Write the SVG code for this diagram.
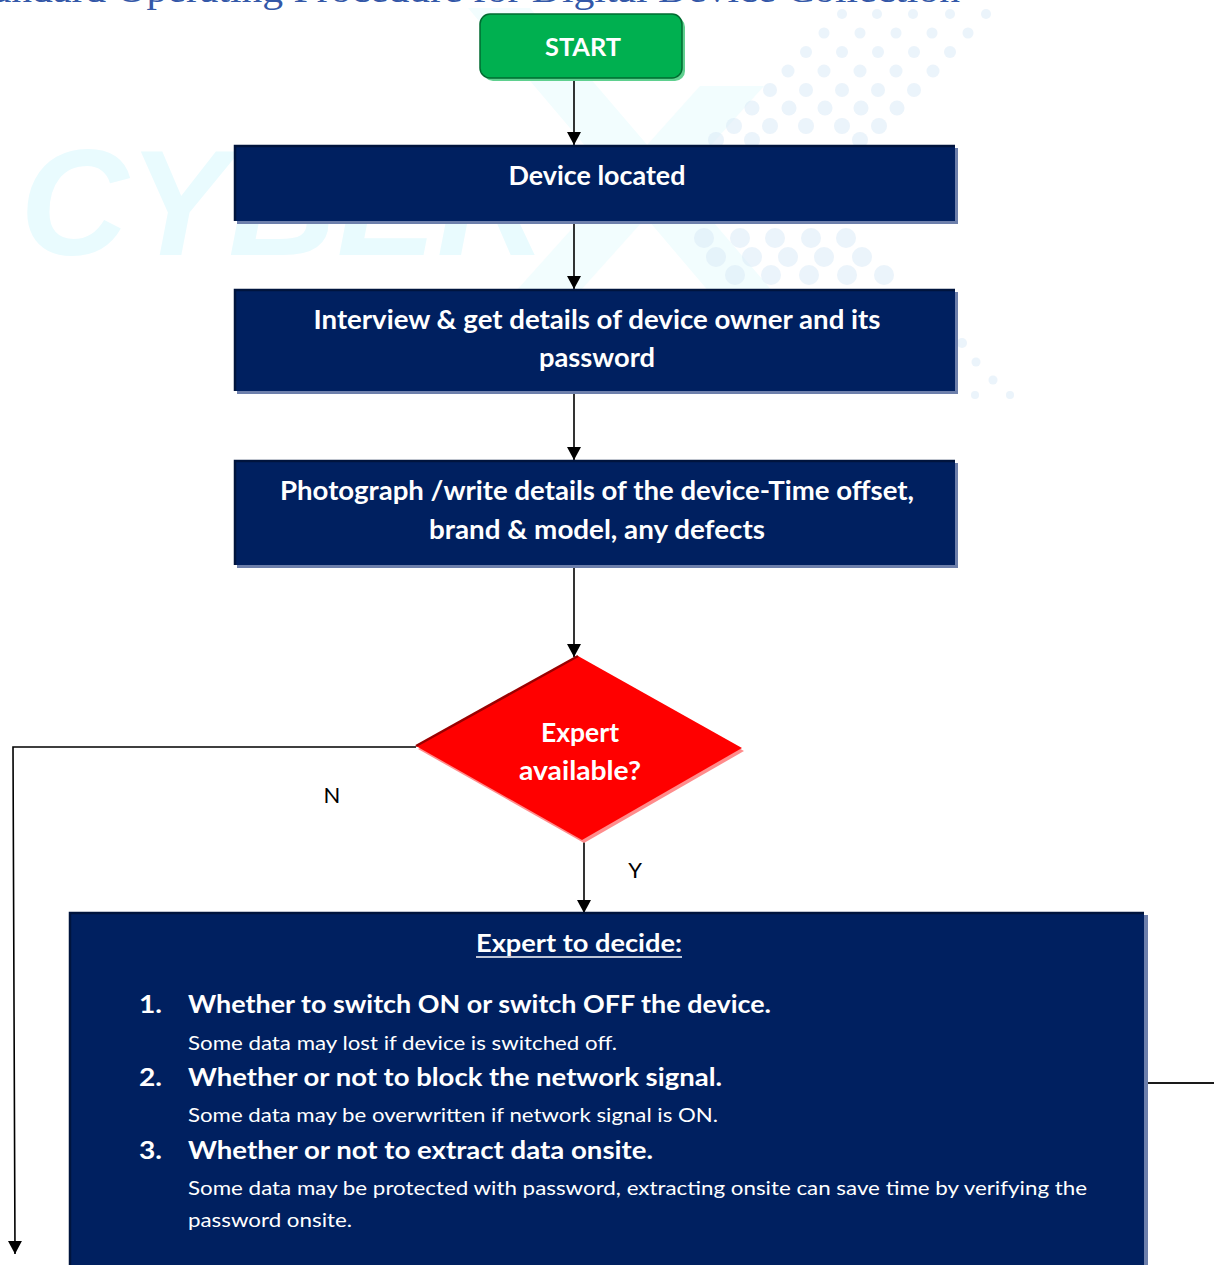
<svg xmlns="http://www.w3.org/2000/svg" width="1214" height="1265" viewBox="0 0 1214 1265">
  <defs>
    <style>
      .lbl { font-family: Lato, "Liberation Sans", sans-serif; font-weight: 700; fill: #ffffff; }
      .sub { font-family: Lato, "Liberation Sans", sans-serif; font-weight: 400; fill: #ffffff; }
      .yn { font-family: Lato, "Liberation Sans", sans-serif; font-weight: 400; fill: #000000; font-size: 22px; }
      .box { fill: #002060; }
      .boxShadow { fill: #6d7fab; }
      .boxEdge { fill: none; stroke: #00143d; stroke-width: 2.5; }
      .link { fill: none; stroke: #000000; stroke-width: 1.6; }
      .dot { fill: #d9eaf8; }
    </style>
    <marker id="arrow" markerUnits="userSpaceOnUse" markerWidth="13" markerHeight="14" viewBox="0 0 13 14" refX="13" refY="7" orient="auto">
      <path d="M0,0 L13,7 L0,14 Z" fill="#000000"/>
    </marker>
  </defs>

  <!-- page background -->
  <rect width="1214" height="1265" fill="#ffffff"/>

  <!-- faint letterhead watermark -->
  <g id="watermark">
    <polygon points="468,8 530,8 780,300 716,300" fill="#f2fdfe"/>
    <polygon points="700,86 764,86 572,300 508,300" fill="#f2fdfe"/>
    <text x="20" y="255" font-family="Liberation Sans, sans-serif" font-weight="700" font-style="italic" font-size="150" fill="#e9fbfe">CYBER</text>
    <g opacity="0.5">
      <circle class="dot" cx="842" cy="14" r="5"/><circle class="dot" cx="877" cy="14" r="5"/><circle class="dot" cx="913" cy="14" r="5"/><circle class="dot" cx="950" cy="14" r="5"/><circle class="dot" cx="986" cy="14" r="5"/>
      <circle class="dot" cx="824" cy="33" r="5.5"/><circle class="dot" cx="860" cy="33" r="5.5"/><circle class="dot" cx="896" cy="33" r="5.5"/><circle class="dot" cx="932" cy="33" r="5.5"/><circle class="dot" cx="968" cy="33" r="5.5"/>
      <circle class="dot" cx="806" cy="52" r="6"/><circle class="dot" cx="842" cy="52" r="6"/><circle class="dot" cx="878" cy="52" r="6"/><circle class="dot" cx="914" cy="52" r="6"/><circle class="dot" cx="950" cy="52" r="6"/>
      <circle class="dot" cx="788" cy="71" r="6.5"/><circle class="dot" cx="824" cy="71" r="6.5"/><circle class="dot" cx="860" cy="71" r="6.5"/><circle class="dot" cx="896" cy="71" r="6.5"/><circle class="dot" cx="933" cy="71" r="6.5"/>
      <circle class="dot" cx="770" cy="90" r="7"/><circle class="dot" cx="806" cy="90" r="7"/><circle class="dot" cx="842" cy="90" r="7"/><circle class="dot" cx="878" cy="90" r="7"/><circle class="dot" cx="914" cy="90" r="7"/>
      <circle class="dot" cx="752" cy="108" r="7.5"/><circle class="dot" cx="789" cy="108" r="7.5"/><circle class="dot" cx="825" cy="108" r="7.5"/><circle class="dot" cx="861" cy="108" r="7.5"/><circle class="dot" cx="897" cy="108" r="7.5"/>
      <circle class="dot" cx="734" cy="126" r="8"/><circle class="dot" cx="770" cy="126" r="8"/><circle class="dot" cx="806" cy="126" r="8"/><circle class="dot" cx="842" cy="126" r="8"/><circle class="dot" cx="879" cy="126" r="8"/>
      <circle class="dot" cx="716" cy="140" r="8"/><circle class="dot" cx="752" cy="140" r="8"/><circle class="dot" cx="860" cy="140" r="8"/>
      <circle class="dot" cx="704" cy="238" r="10"/><circle class="dot" cx="740" cy="238" r="10"/><circle class="dot" cx="775" cy="238" r="10"/><circle class="dot" cx="811" cy="238" r="10"/><circle class="dot" cx="846" cy="238" r="10"/>
      <circle class="dot" cx="716" cy="257" r="10"/><circle class="dot" cx="752" cy="257" r="10"/><circle class="dot" cx="788" cy="257" r="10"/><circle class="dot" cx="824" cy="257" r="10"/><circle class="dot" cx="862" cy="257" r="10"/>
      <circle class="dot" cx="735" cy="275" r="10"/><circle class="dot" cx="771" cy="275" r="10"/><circle class="dot" cx="809" cy="275" r="10"/><circle class="dot" cx="847" cy="275" r="10"/><circle class="dot" cx="884" cy="275" r="10"/>
      <circle class="dot" cx="962" cy="343" r="5"/><circle class="dot" cx="976" cy="362" r="4.5"/><circle class="dot" cx="993" cy="380" r="4.5"/><circle class="dot" cx="1010" cy="395" r="4"/><circle class="dot" cx="975" cy="395" r="4"/>
    </g>
  </g>

  <!-- page heading, running off the top edge -->
  <text x="-42" y="2" font-family="Liberation Serif, serif" font-size="36" fill="#3458a8" textLength="1002" lengthAdjust="spacingAndGlyphs">Standard Operating Procedure for Digital Device Collection</text>

  <!-- connectors -->
  <g id="connectors">
    <line class="link" x1="574" y1="80" x2="574" y2="145" marker-end="url(#arrow)"/>
    <line class="link" x1="574" y1="224" x2="574" y2="289" marker-end="url(#arrow)"/>
    <line class="link" x1="574" y1="394" x2="574" y2="460" marker-end="url(#arrow)"/>
    <line class="link" x1="574" y1="568" x2="574" y2="657" marker-end="url(#arrow)"/>
    <polyline class="link" points="416,747 13,747 15,1254" marker-end="url(#arrow)"/>
    <line class="link" x1="584" y1="842" x2="584" y2="913" marker-end="url(#arrow)"/>
    <line x1="1147" y1="1083" x2="1214" y2="1083" stroke="#1a1a1a" stroke-width="2"/>
    <text class="yn" x="332" y="803" text-anchor="middle">N</text>
    <text class="yn" x="635" y="878" text-anchor="middle">Y</text>
  </g>

  <!-- start terminal -->
  <g id="start">
    <rect x="483" y="17" width="202" height="64" rx="10" fill="#5fd08f"/>
    <rect x="480" y="14" width="202" height="64" rx="10" fill="#00b050" stroke="#006b30" stroke-width="1.5"/>
    <text class="lbl" x="583" y="56" font-size="25" text-anchor="middle" textLength="76" lengthAdjust="spacingAndGlyphs">START</text>
  </g>

  <!-- process: device located -->
  <g id="device-located">
    <rect class="boxShadow" x="237" y="148" width="721" height="76"/>
    <rect class="box" x="234" y="145" width="721" height="76"/>
    <polyline class="boxEdge" points="235,221 235,146 955,146"/>
    <text class="lbl" x="597" y="185" font-size="26" text-anchor="middle" textLength="177" lengthAdjust="spacingAndGlyphs">Device located</text>
  </g>

  <!-- process: interview owner -->
  <g id="interview">
    <rect class="boxShadow" x="237" y="292" width="721" height="102"/>
    <rect class="box" x="234" y="289" width="721" height="102"/>
    <polyline class="boxEdge" points="235,391 235,290 955,290"/>
    <text class="lbl" x="597" y="329" font-size="26" text-anchor="middle" textLength="567" lengthAdjust="spacingAndGlyphs">Interview &amp; get details of device owner and its</text>
    <text class="lbl" x="597" y="367" font-size="26" text-anchor="middle" textLength="116" lengthAdjust="spacingAndGlyphs">password</text>
  </g>

  <!-- process: photograph device -->
  <g id="photograph">
    <rect class="boxShadow" x="237" y="463" width="721" height="105"/>
    <rect class="box" x="234" y="460" width="721" height="105"/>
    <polyline class="boxEdge" points="235,565 235,461 955,461"/>
    <text class="lbl" x="597" y="500" font-size="26" text-anchor="middle" textLength="634" lengthAdjust="spacingAndGlyphs">Photograph /write details of the device-Time offset,</text>
    <text class="lbl" x="597" y="539" font-size="26" text-anchor="middle" textLength="336" lengthAdjust="spacingAndGlyphs">brand &amp; model, any defects</text>
  </g>

  <!-- decision: expert available -->
  <g id="expert-available">
    <polygon points="580,659 744,751 584,843 418,749" fill="#ff8c8c"/>
    <polygon points="578,656 742,748 582,840 416,746" fill="#ff0000"/>
    <line x1="416" y1="746" x2="578" y2="656" stroke="#9a0000" stroke-width="2.5"/>
    <text class="lbl" x="580" y="742" font-size="26" text-anchor="middle" textLength="78" lengthAdjust="spacingAndGlyphs">Expert</text>
    <text class="lbl" x="580" y="780" font-size="26" text-anchor="middle" textLength="122" lengthAdjust="spacingAndGlyphs">available?</text>
  </g>

  <!-- process: expert decisions -->
  <g id="expert-decide">
    <rect class="boxShadow" x="72" y="915" width="1076" height="360"/>
    <rect class="box" x="69" y="912" width="1075" height="360"/>
    <polyline class="boxEdge" points="70,1270 70,913 1144,913"/>
    <text class="lbl" x="579" y="952" font-size="25" text-anchor="middle" textLength="206" lengthAdjust="spacingAndGlyphs">Expert to decide:</text>
    <line x1="476" y1="957" x2="682" y2="957" stroke="#ffffff" stroke-width="1.6"/>

    <text class="lbl" x="139" y="1013" font-size="25" textLength="23" lengthAdjust="spacingAndGlyphs">1.</text>
    <text class="lbl" x="188" y="1013" font-size="25" textLength="583" lengthAdjust="spacingAndGlyphs">Whether to switch ON or switch OFF the device.</text>
    <text class="sub" x="188" y="1050" font-size="20" textLength="429" lengthAdjust="spacingAndGlyphs">Some data may lost if device is switched off.</text>

    <text class="lbl" x="139" y="1086" font-size="25" textLength="23" lengthAdjust="spacingAndGlyphs">2.</text>
    <text class="lbl" x="188" y="1086" font-size="25" textLength="534" lengthAdjust="spacingAndGlyphs">Whether or not to block the network signal.</text>
    <text class="sub" x="188" y="1122" font-size="20" textLength="530" lengthAdjust="spacingAndGlyphs">Some data may be overwritten if network signal is ON.</text>

    <text class="lbl" x="139" y="1159" font-size="25" textLength="23" lengthAdjust="spacingAndGlyphs">3.</text>
    <text class="lbl" x="188" y="1159" font-size="25" textLength="465" lengthAdjust="spacingAndGlyphs">Whether or not to extract data onsite.</text>
    <text class="sub" x="188" y="1195" font-size="20" textLength="899" lengthAdjust="spacingAndGlyphs">Some data may be protected with password, extracting onsite can save time by verifying the</text>
    <text class="sub" x="188" y="1227" font-size="20" textLength="164" lengthAdjust="spacingAndGlyphs">password onsite.</text>
  </g>
</svg>
